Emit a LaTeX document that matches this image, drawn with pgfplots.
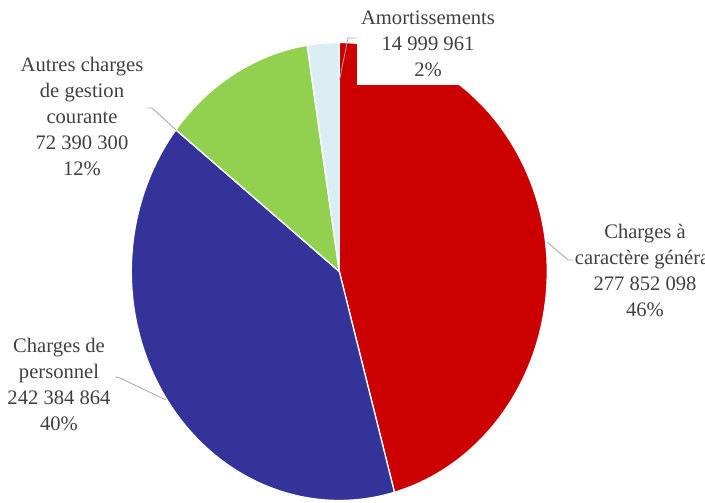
\documentclass[border=0pt]{standalone}
\usepackage{pgfplots}
\pgfplotsset{compat=1.18}
\usepackage{fontspec}
\setmainfont{Liberation Serif}

\definecolor{cRed}{HTML}{CC0000}
\definecolor{cBlue}{HTML}{333399}
\definecolor{cGreen}{HTML}{92D050}
\definecolor{cLight}{HTML}{DAEEF3}
\definecolor{txt}{HTML}{404040}
\definecolor{lead}{HTML}{A6A6A6}

% montants (euros)
\def\vA{277852098} % Charges a caractere general
\def\vB{242384864} % Charges de personnel
\def\vC{72390300}  % Autres charges de gestion courante
\def\vD{14999961}  % Amortissements
\edef\tot{\fpeval{\vA+\vB+\vC+\vD}}
\edef\aA{90}
\edef\aB{\fpeval{\aA-360*\vA/\tot}}
\edef\aC{\fpeval{\aB-360*\vB/\tot}}
\edef\aD{\fpeval{\aC-360*\vC/\tot}}
\edef\aE{\fpeval{\aD-360*\vD/\tot}}

% centre et rayons (en pixels de la figure)
\def\cx{339.3}
\def\cy{231.5}
\def\rx{208}
\def\ry{229}

\tikzset{lbl/.style={font=\fontsize{20.6}{26}\selectfont, text=txt, align=center, inner sep=0pt}}

\begin{document}
\begin{tikzpicture}
\useasboundingbox (0,0) rectangle (705pt,503pt);
\clip (0,0) rectangle (705pt,503pt);
\begin{axis}[
    scale only axis,
    width=705pt, height=503pt,
    xmin=0, xmax=705, ymin=0, ymax=503,
    hide axis,
    clip=false,
    every axis plot/.append style={draw=white, line width=1.3pt, samples=90, variable=\t},
    ]
    \addplot[fill=cRed,   domain=\aB:\aA] ({\cx+\rx*cos(t)},{\cy+\ry*sin(t)}) -- (axis cs:\cx,\cy) -- cycle;
    \addplot[fill=cBlue,  domain=\aC:\aB] ({\cx+\rx*cos(t)},{\cy+\ry*sin(t)}) -- (axis cs:\cx,\cy) -- cycle;
    \addplot[fill=cGreen, domain=\aD:\aC] ({\cx+\rx*cos(t)},{\cy+\ry*sin(t)}) -- (axis cs:\cx,\cy) -- cycle;
    \addplot[fill=cLight, domain=\aE:\aD] ({\cx+\rx*cos(t)},{\cy+\ry*sin(t)}) -- (axis cs:\cx,\cy) -- cycle;

    % fond blanc de l'etiquette Amortissements
    \fill[white] (axis cs:357,418) rectangle (axis cs:540,503);

    % lignes de rappel
    \draw[lead, line width=0.8pt] (axis cs:356,465) -- (axis cs:348,465) -- (axis cs:339.5,423);
    \draw[lead, line width=0.8pt] (axis cs:147,395) -- (axis cs:152,395) -- (axis cs:176,373);
    \draw[lead, line width=0.8pt] (axis cs:115,126) -- (axis cs:120,125) -- (axis cs:166,103);
    \draw[lead, line width=0.8pt] (axis cs:547,261) -- (axis cs:568,243) -- (axis cs:573,243);

    % etiquettes
    \node[lbl] at (axis cs:428,459) {Amortissements\\14 999 961\\2\%};
    \node[lbl] at (axis cs:82,387) {Autres charges\\de gestion\\courante\\72 390 300\\12\%};
    \node[lbl] at (axis cs:59,118.5) {Charges de\\personnel\\242 384 864\\40\%};
    \node[lbl] at (axis cs:645,232.5) {Charges à\\caractère général\\277 852 098\\46\%};
\end{axis}
\end{tikzpicture}
\end{document}
